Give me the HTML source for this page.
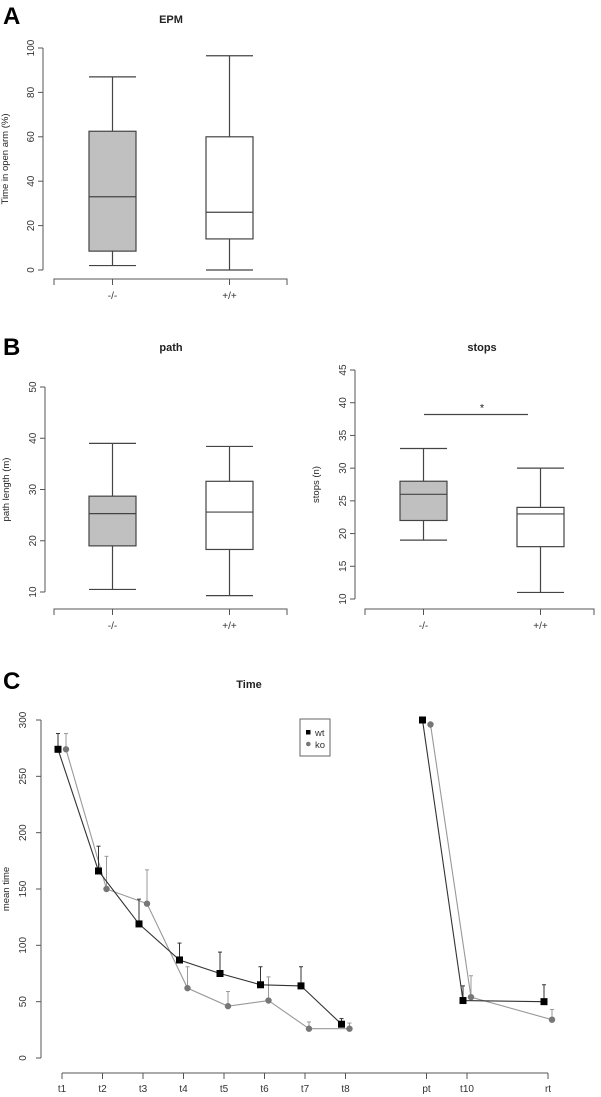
<!DOCTYPE html>
<html><head><meta charset="utf-8"><style>
body{margin:0;background:#fff}
svg{display:block;font-family:"Liberation Sans",Arial,sans-serif}
</style></head><body>
<svg id="fig" width="601" height="1097" viewBox="0 0 601 1097">
<text x="3" y="24" font-size="24" font-weight="bold">A</text>
<text x="3" y="355" font-size="24" font-weight="bold">B</text>
<text x="3" y="689" font-size="24" font-weight="bold">C</text>
</svg>
<script>
// ---- data ----
const boxCategories = ["-/-", "+/+"];
const epmStats = [[2, 8.5, 33, 62.5, 87], [0, 14, 26, 60, 96.5]];
const epmTicks = [0, 20, 40, 60, 80, 100];
const pathStats = [[10.5, 19, 25.3, 28.7, 39], [9.3, 18.3, 25.6, 31.6, 38.4]];
const pathTicks = [10, 20, 30, 40, 50];
const stopsStats = [[19, 22, 26, 28, 33], [11, 18, 23, 24, 30]];
const stopsTicks = [10, 15, 20, 25, 30, 35, 40, 45];
const sigLevel = [38.2];

const timeLabels = ["t1","t2","t3","t4","t5","t6","t7","t8","pt","t10","rt"];
const timeIndex = [1,2,3,4,5,6,7,8,10,11,13];
const wtMean = [274,166,119,87,75,65,64,30,300,51,50];
const wtUpper = [288,188,141,102,94,81,81,35,300,64,65];
const koMean = [274,150,137,62,46,51,26,26,296,54,34];
const koUpper = [288,179,167,81,59,72,32,31,296,73,43];
const timeTicks = [0,50,100,150,200,250,300];

const NS = "http://www.w3.org/2000/svg";
const svg = document.getElementById("fig");
function el(tag, attrs, parent, text){
  const e = document.createElementNS(NS, tag);
  for (const k in attrs) e.setAttribute(k, attrs[k]);
  if (text !== undefined) e.textContent = text;
  (parent || svg).appendChild(e);
  return e;
}
const AX = "#555";

function boxPanel(name, o){
  const g = el("g", {}); 
  
  
  const ys = v => o.y0 + (v - o.vmin) / (o.vmax - o.vmin) * (o.y1 - o.y0);
  const t = el("text", {x:o.tx, y:o.ty, "font-size":11, "font-weight":"bold", "text-anchor":"middle", fill:"#222"}, g, o.title);
  
  
  // y axis
  const ya = el("line", {x1:o.ax, x2:o.ax, y1:ys(o.ticks[0]), y2:ys(o.ticks[o.ticks.length-1]), stroke:AX}, g);
  
  
  o.ticks.forEach(v => {
    el("line", {x1:o.ax-5, x2:o.ax, y1:ys(v), y2:ys(v), stroke:AX}, g);
    const tl = el("text", {x:0, y:0, transform:`translate(${o.ax-9},${ys(v)}) rotate(-90)`, "font-size":10, "text-anchor":"middle", fill:"#333"}, g, String(v));
    
    
  });
  const yl = el("text", {x:0, y:0, transform:`translate(${o.ylx},${(o.y0+o.y1)/2}) rotate(-90)`, "font-size":9.5, "text-anchor":"middle", fill:"#222"}, g, o.ylabel);
  
  
  // x axis
  const xa = el("path", {d:`M${o.xa0},${o.xay+6}V${o.xay}H${o.xa1}V${o.xay+6}`, stroke:AX, fill:"none"}, g);
  
  
  o.stats.forEach((s, i) => {
    const cx = o.cx[i], hw = 23.5;
    el("line", {x1:cx, x2:cx, y1:o.xay, y2:o.xay+6, stroke:AX}, g);
    const xl = el("text", {x:cx, y:o.xay+20, "font-size":10, "text-anchor":"middle", fill:"#333"}, g, boxCategories[i]);
    
    
    const bg = el("g", {stroke:"#444", "stroke-width":1.2}, g);
    
    
    el("line", {x1:cx, x2:cx, y1:ys(s[0]), y2:ys(s[4])}, bg);
    el("line", {x1:cx-hw, x2:cx+hw, y1:ys(s[0]), y2:ys(s[0])}, bg);
    el("line", {x1:cx-hw, x2:cx+hw, y1:ys(s[4]), y2:ys(s[4])}, bg);
    el("rect", {x:cx-hw, y:ys(s[3]), width:2*hw, height:ys(s[1])-ys(s[3]), fill:i===0?"#c0c0c0":"#fff"}, bg);
    el("line", {x1:cx-hw, x2:cx+hw, y1:ys(s[2]), y2:ys(s[2])}, bg);
  });
  return {g, ys};
}

boxPanel("epm", {vmin:0, vmax:100, y0:270, y1:48, ax:43, ticks:epmTicks, stats:epmStats, cx:[112.5,229.5],
  xa0:54, xa1:287, xay:279, title:"EPM", tx:171, ty:23, ylabel:"Time in open arm (%)", ylx:8});
boxPanel("path", {vmin:10, vmax:50, y0:592, y1:387, ax:45, ticks:pathTicks, stats:pathStats, cx:[112.5,229.5],
  xa0:54, xa1:287, xay:609, title:"path", tx:171, ty:351, ylabel:"path length (m)", ylx:9});
const sp = boxPanel("stops", {vmin:10, vmax:45, y0:599, y1:370, ax:355, ticks:stopsTicks, stats:stopsStats, cx:[423.5,540.5],
  xa0:365, xa1:594, xay:609, title:"stops", tx:482, ty:351, ylabel:"stops (n)", ylx:319});
const sig = el("line", {x1:424, x2:528, y1:sp.ys(sigLevel[0]), y2:sp.ys(sigLevel[0]), stroke:"#444", "stroke-width":1.2});


const star = el("text", {x:482, y:sp.ys(sigLevel[0])-3, "font-size":11, "text-anchor":"middle", fill:"#222"}, svg, "*");



// ---- Panel C ----
const cg = el("g", {});


const tx = i => 62 + (i - 1) * 40.5;
const ty = v => 1058 - v * (338 / 300);
const ct = el("text", {x:249, y:688, "font-size":11, "font-weight":"bold", "text-anchor":"middle", fill:"#222"}, cg, "Time");


const cya = el("line", {x1:41, x2:41, y1:ty(0), y2:ty(300), stroke:AX}, cg);


timeTicks.forEach(v => {
  el("line", {x1:36, x2:41, y1:ty(v), y2:ty(v), stroke:AX}, cg);
  const l = el("text", {x:0, y:0, transform:`translate(${26},${ty(v)}) rotate(-90)`, "font-size":10, "text-anchor":"middle", fill:"#333"}, cg, String(v));
  
  
});
const cyl = el("text", {x:0, y:0, transform:`translate(9,${ty(150)}) rotate(-90)`, "font-size":9.5, "text-anchor":"middle", fill:"#222"}, cg, "mean time");


const cxa = el("line", {x1:tx(1), x2:tx(13), y1:1073, y2:1073, stroke:AX}, cg);


timeLabels.forEach((lab, k) => {
  const x = tx(timeIndex[k]);
  el("line", {x1:x, x2:x, y1:1073, y2:1079, stroke:AX}, cg);
  const l = el("text", {x:x, y:1092, "font-size":10, "text-anchor":"middle", fill:"#333"}, cg, lab);
  
  
});
function series(name, mean, upper, off, color, square){
  const g = el("g", {}, cg);
  
  
  const segs = [[0,8],[8,11]];
  segs.forEach(([a,b]) => {
    const pts = [];
    for (let k=a;k<b;k++) pts.push(`${tx(timeIndex[k])+off},${ty(mean[k])}`);
    el("polyline", {points:pts.join(" "), fill:"none", stroke:color, "stroke-width":1.1}, g);
  });
  mean.forEach((v,k) => {
    const x = tx(timeIndex[k]) + off;
    if (upper[k] > v) {
      el("line", {x1:x, x2:x, y1:ty(v), y2:ty(upper[k]), stroke:color, "stroke-width":1}, g);
      el("line", {x1:x-2, x2:x+2, y1:ty(upper[k]), y2:ty(upper[k]), stroke:color, "stroke-width":1}, g);
    }
    const m = square ? el("rect", {x:x-3.5, y:ty(v)-3.5, width:7, height:7, fill:"#000"}, g)
                     : el("circle", {cx:x, cy:ty(v), r:3.2, fill:"#777"}, g);
    
    
  });
}
series("ko", koMean, koUpper, 4, "#999", false);
series("wt", wtMean, wtUpper, -4, "#333", true);
const lg = el("g", {}, cg);


el("rect", {x:300, y:719, width:30, height:37, fill:"#fff", stroke:"#666"}, lg);
el("rect", {x:306, y:730, width:4.5, height:4.5, fill:"#000"}, lg);
const l1 = el("text", {x:315, y:736, "font-size":9.5, fill:"#333"}, lg, "wt");


el("circle", {cx:308.3, cy:744, r:2.3, fill:"#777"}, lg);
const l2 = el("text", {x:315, y:748, "font-size":9.5, fill:"#333"}, lg, "ko");


</script>
</body></html>
